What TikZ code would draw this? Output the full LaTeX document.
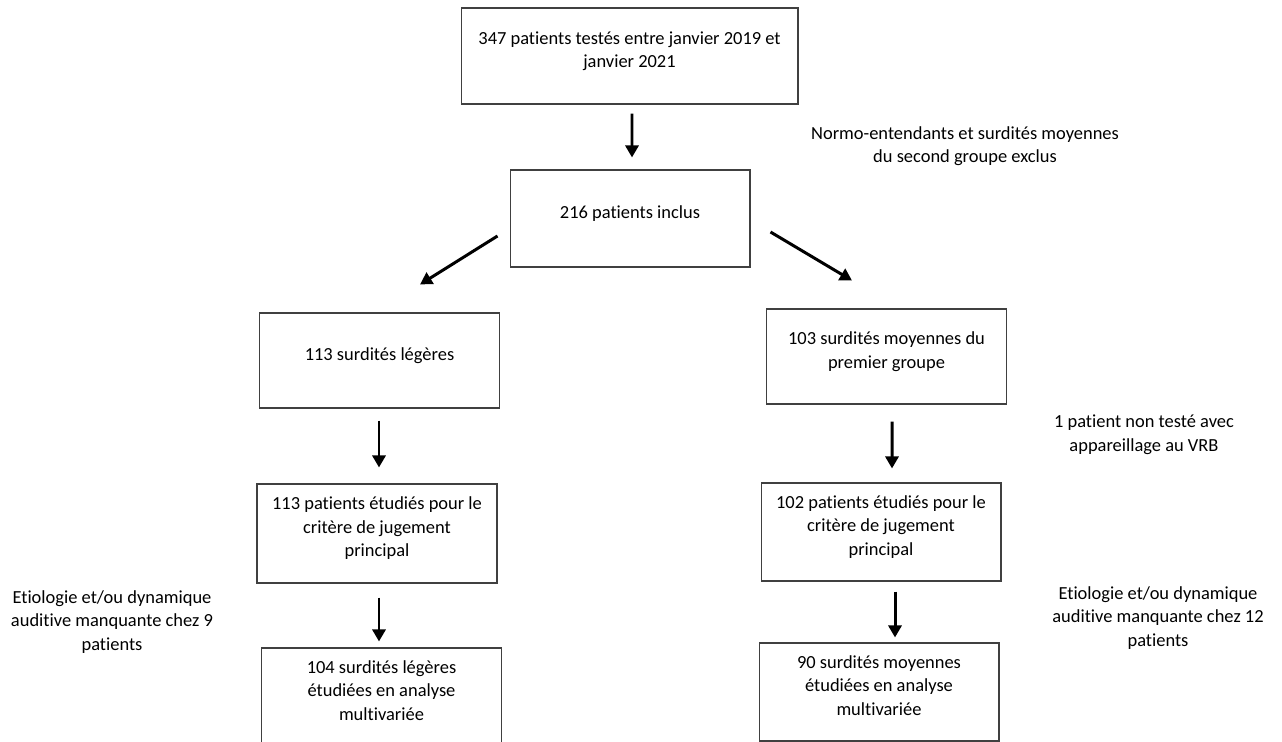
\documentclass[tikz,border=0pt]{standalone}
\usepackage{fontspec}
\setmainfont{Carlito}[Ligatures=NoCommon]
\usetikzlibrary{arrows.meta}
\definecolor{ink}{HTML}{000000}
\definecolor{frame}{HTML}{404040}
\begin{document}
\begin{tikzpicture}[x=0.02cm,y=-0.02cm,font=\fontsize{10.5}{13.4}\selectfont,text=ink,
 box/.style={draw=frame,line width=.6pt,align=center,minimum width=4.8cm,minimum height=1.94cm,inner sep=0pt,text depth=.26cm},
 note/.style={align=center,inner sep=0pt},
 arrow/.style={-{Triangle[length=.24cm,width=.26cm]},draw=ink,line width=1.7pt}]
\path[use as bounding box] (0,0) rectangle (1282,742);
\clip (0,0) rectangle (1282,742);
\node[box,minimum width=6.74cm,minimum height=1.92cm] (tested) at (629.5,56) {347 patients testés entre janvier 2019 et\\janvier 2021};
\node[box] (incl) at (630,218.5) {216 patients inclus};
\node[box,minimum height=1.9cm] (light) at (379.5,360.5) {113 surdités légères};
\node[box,minimum height=1.9cm] (mod) at (886.5,356.5) {103 surdités moyennes du\\premier groupe};
\node[box,minimum height=1.98cm] (lightstudy) at (377,533.5) {113 patients étudiés pour le\\critère de jugement\\principal};
\node[box,minimum height=1.96cm] (modstudy) at (881,532) {102 patients étudiés pour le\\critère de jugement\\principal};
\node[box,minimum height=1.96cm] (lightmulti) at (381.5,697) {104 surdités légères\\étudiées en analyse\\multivariée};
\node[box,minimum height=1.96cm] (modmulti) at (879,692) {90 surdités moyennes\\étudiées en analyse\\multivariée};
% side notes
\node[note] (excluded) at (965,146) {Normo-entendants et surdités moyennes\\du second groupe exclus};
\node[note] (vrb) at (1144,435) {1 patient non testé avec\\appareillage au VRB};
\node[note] (missleft) at (112,622) {Etiologie et/ou dynamique\\auditive manquante chez 9\\patients};
\node[note] (missright) at (1158,618) {Etiologie et/ou dynamique\\auditive manquante chez 12\\patients};
% arrows
\draw[arrow] ([shift={(2.5,9)}]tested.south) -- ([shift={(2,-12)}]incl.north);
\draw[arrow] ([shift={(-12,17.5)}]incl.west) -- ([shift={(40.5,-28)}]light.north);
\draw[arrow] ([shift={(20,13.5)}]incl.east) -- ([shift={(-34.5,-28)}]mod.north);
\draw[arrow] ([shift={(-0.5,12)}]light.south) -- ([shift={(2,-16)}]lightstudy.north);
\draw[arrow] ([shift={(5.5,17)}]mod.south) -- ([shift={(11,-14)}]modstudy.north);
\draw[arrow] ([shift={(2,14)}]lightstudy.south) -- ([shift={(-2.5,-6)}]lightmulti.north);
\draw[arrow] ([shift={(14,10)}]modstudy.south) -- ([shift={(16,-5)}]modmulti.north);
\end{tikzpicture}
\end{document}
